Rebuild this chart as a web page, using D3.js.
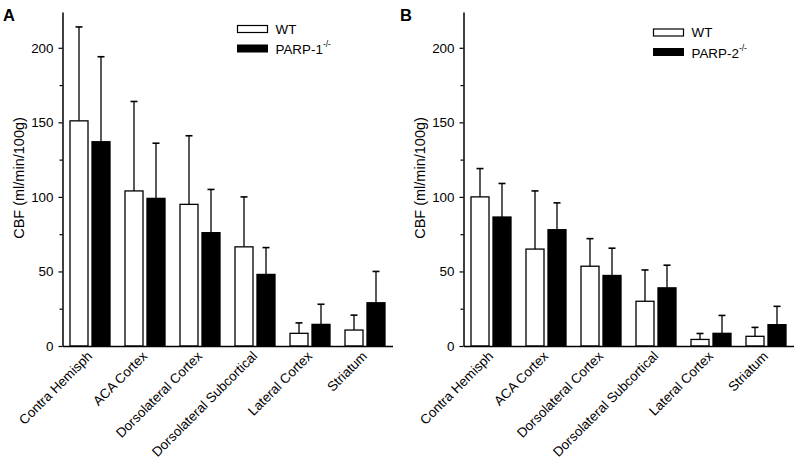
<!DOCTYPE html>
<html>
<head>
<meta charset="utf-8">
<script src="https://cdn.jsdelivr.net/npm/d3@7"></script>
<style>
  html, body { margin: 0; padding: 0; background: #fff; }
  svg { display: block; }
  text { font-family: "Liberation Sans", Arial, sans-serif; fill: #000; }
</style>
</head>
<body>
<svg id="chart" width="800" height="462"></svg>
<script>
// ---------- data ----------
const categories = ["Contra Hemisph", "ACA Cortex", "Dorsolateral Cortex", "Dorsolateral Subcortical", "Lateral Cortex", "Striatum"];
const yTicksMajor = [0, 50, 100, 150, 200];
const yTicksMinor = [25, 75, 125, 175];

// Panel A
const wtA      = [151, 104, 95, 66.5, 8.5, 10.7];
const wtA_sd   = [63, 60, 46, 33.5, 7, 10];
const parp1A   = [137, 99, 76, 48, 14.5, 29];
const parp1A_sd= [57, 37, 29, 18, 13.5, 21];

// Panel B
const wtB      = [100, 65, 53.5, 30, 4.4, 6.5];
const wtB_sd   = [19, 39, 18.5, 21, 4, 6];
const parp2B   = [86.5, 78, 47.3, 39, 8.5, 14.3];
const parp2B_sd= [22.5, 18, 18.3, 15.2, 12, 12.3];

const seriesNames = ["WT", "PARP"];

// ---------- drawing ----------
const svg = d3.select("#chart");
const yMax = 224;
const FS = 13.4;

function drawPanel(cfg) {
  const g = svg.append("g");
  const x = d3.scaleBand().domain(categories).range([cfg.x0, cfg.x0 + 330]).padding(0);
  const y = d3.scaleLinear().domain([0, yMax]).range([346, 12]);
  const bw = 18, gap = 4;

  const series = [
    { vals: cfg.wt, sd: cfg.wtSd, fill: "#fff", off: -(bw + gap / 2) },
    { vals: cfg.ko, sd: cfg.koSd, fill: "#000", off: gap / 2 }
  ];
  series.forEach(s => {
    const data = categories.map((c, i) => ({ c, v: s.vals[i], e: s.vals[i] + s.sd[i] }));
    const cx = d => x(d.c) + x.bandwidth() / 2 + s.off + bw / 2;
    g.selectAll(null).data(data).enter().append("line")
      .attr("x1", cx).attr("x2", cx)
      .attr("y1", d => y(d.v)).attr("y2", d => y(d.e))
      .attr("stroke", "#000").attr("stroke-width", 1.3);
    g.selectAll(null).data(data).enter().append("line")
      .attr("x1", d => cx(d) - 3.5).attr("x2", d => cx(d) + 3.5)
      .attr("y1", d => y(d.e)).attr("y2", d => y(d.e))
      .attr("stroke", "#000").attr("stroke-width", 1.6);
    g.selectAll(null).data(data).enter().append("rect")
      .attr("x", d => x(d.c) + x.bandwidth() / 2 + s.off)
      .attr("y", d => y(d.v))
      .attr("width", bw)
      .attr("height", d => y(0) - y(d.v))
      .attr("fill", s.fill)
      .attr("stroke", "#000").attr("stroke-width", 1.3);
  });

  // y axis
  const yAxis = d3.axisLeft(y).tickValues(yTicksMajor).tickSize(4).tickPadding(5).tickSizeOuter(0);
  const ya = g.append("g").attr("transform", `translate(${cfg.x0},0)`).call(yAxis);
  ya.select(".domain").attr("stroke-width", 1.5);
  ya.selectAll(".tick line").attr("stroke-width", 1.2);
  ya.selectAll("text").attr("font-size", FS).attr("font-family", "Liberation Sans, Arial, sans-serif");
  const yMinor = d3.axisLeft(y).tickValues(yTicksMinor).tickSize(3).tickFormat("");
  const ym = g.append("g").attr("transform", `translate(${cfg.x0},0)`).call(yMinor);
  ym.select(".domain").remove();
  ym.selectAll(".tick line").attr("stroke-width", 1.2);

  // x axis
  const xAxis = d3.axisBottom(x).tickSize(0).tickSizeOuter(0).tickPadding(0);
  const xa = g.append("g").attr("transform", `translate(0,${y(0)})`).call(xAxis);
  xa.select(".domain").attr("stroke-width", 1.5);
  xa.selectAll(".tick text")
    .attr("font-size", FS)
    .attr("font-family", "Liberation Sans, Arial, sans-serif")
    .attr("text-anchor", "end")
    .attr("dy", null).attr("y", null)
    .attr("transform", "translate(3,11) rotate(-45)");

  // y title
  g.append("text")
    .attr("transform", `translate(${cfg.x0 - 38.5},178) rotate(-90)`)
    .attr("text-anchor", "middle")
    .attr("font-size", 14.5)
    .text("CBF (ml/min/100g)");

  // panel label
  g.append("text").attr("x", cfg.labelX).attr("y", 20.5)
    .attr("font-size", 16.5).attr("font-weight", "bold").text(cfg.label);

  // legend
  const lg = g.append("g").attr("transform", `translate(${cfg.legX},${cfg.legY})`);
  lg.append("rect").attr("x", 0).attr("y", 0).attr("width", 30).attr("height", 7)
    .attr("fill", "#fff").attr("stroke", "#000").attr("stroke-width", 1.2);
  lg.append("text").attr("x", 38).attr("y", 8).attr("font-size", FS).text(seriesNames[0]);
  lg.append("rect").attr("x", 0).attr("y", 19.5).attr("width", 30).attr("height", 7)
    .attr("fill", "#000").attr("stroke", "#000").attr("stroke-width", 1);
  const t = lg.append("text").attr("x", 38).attr("y", 28.5).attr("font-size", FS);
  t.append("tspan").text(cfg.koName);
  t.append("tspan").attr("font-size", 8.5).attr("dy", -7).text("-/-");
}

drawPanel({ x0: 62.5, label: "A", labelX: 3, wt: wtA, wtSd: wtA_sd, ko: parp1A, koSd: parp1A_sd,
            koName: "PARP-1", legX: 237.5, legY: 25.5 });
drawPanel({ x0: 463.5, label: "B", labelX: 400, wt: wtB, wtSd: wtB_sd, ko: parp2B, koSd: parp2B_sd,
            koName: "PARP-2", legX: 653.5, legY: 29 });
</script>
</body>
</html>
